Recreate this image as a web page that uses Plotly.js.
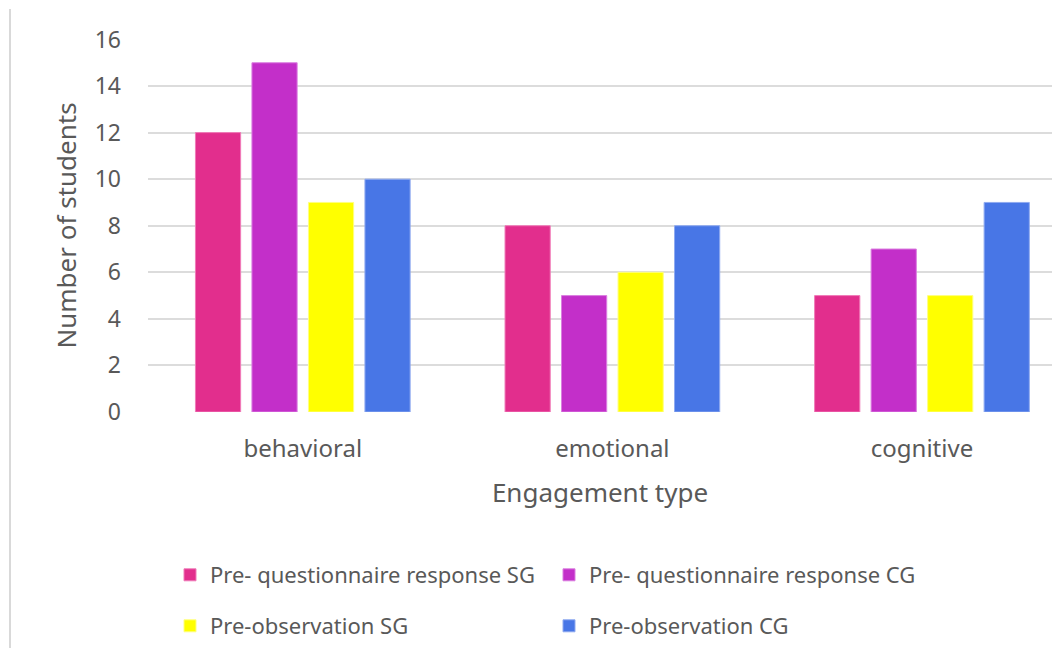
<!DOCTYPE html>
<html>
<head>
<meta charset="utf-8">
<script src="https://cdn.plot.ly/plotly-3.0.1.min.js"></script>
<style>html,body{margin:0;padding:0;overflow:hidden;background:#fff;}#chart{width:1052px;height:648px;}</style>
</head>
<body>
<div id="chart"></div>
<script>
const categories = ["behavioral", "emotional", "cognitive"];
const seriesNames = ["Pre- questionnaire response SG", "Pre- questionnaire response CG", "Pre-observation SG", "Pre-observation CG"];
const questionnaireSG = [12, 8, 5];
const questionnaireCG = [15, 5, 7];
const observationSG = [9, 6, 5];
const observationCG = [10, 8, 9];
const yTicks = [0, 2, 4, 6, 8, 10, 12, 14, 16];

const colors = ["#E22E8D", "#C32FC9", "#FFFF00", "#4876E6"];
const lineColors = ["#F07BB8", "#DB7FE0", "#FFFF80", "#8FAAF0"];
const values = [questionnaireSG, questionnaireCG, observationSG, observationCG];
const legends = ["legend", "legend", "legend2", "legend2"];

const traces = values.map((v, i) => ({
  type: "bar",
  name: seriesNames[i],
  x: categories,
  y: v,
  marker: {color: colors[i], line: {color: lineColors[i], width: 1}},
  legend: legends[i],
  hoverinfo: "skip"
}));

const font = {family: "'Noto Sans', 'Open Sans', sans-serif", color: "#595959"};
const W = 904, H = 373, L = 148, T = 39;

const layout = {
  width: 1052, height: 648,
  margin: {l: L, r: 0, t: T, b: 648 - T - H},
  paper_bgcolor: "#fff", plot_bgcolor: "#fff",
  font: font,
  showlegend: true,
  barmode: "group",
  bargap: 0.27,
  bargroupgap: 0.2,
  xaxis: {
    type: "category",
    range: [-0.5, 2.42],
    showgrid: false, zeroline: false, showline: false,
    ticks: "", ticklabelstandoff: 20,
    tickfont: {size: 24, family: font.family, color: "#595959"},
    title: {text: "Engagement type", font: {size: 26, family: font.family, color: "#595959"}, standoff: 20}
  },
  yaxis: {
    range: [0, 16.02],
    tickvals: yTicks,
    showgrid: true, gridcolor: "#dcdcdc", gridwidth: 2,
    zeroline: false, showline: false,
    ticks: "", ticklabelstandoff: 26,
    tickfont: {size: 23, family: font.family, color: "#595959"},
    title: {text: "Number of students", font: {size: 26, family: font.family, color: "#595959"}, standoff: 10}
  },
  legend: {
    orientation: "h", x: (170 - L) / W, xanchor: "left", y: (T + H - 575) / H, yanchor: "middle",
    entrywidth: 334, entrywidthmode: "pixels",
    font: {size: 22, family: font.family, color: "#595959"},
    bgcolor: "rgba(0,0,0,0)"
  },
  legend2: {
    orientation: "h", x: (170 - L) / W, xanchor: "left", y: (T + H - 626) / H, yanchor: "middle",
    entrywidth: 334, entrywidthmode: "pixels",
    font: {size: 22, family: font.family, color: "#595959"},
    bgcolor: "rgba(0,0,0,0)"
  },
  shapes: [{
    type: "line", xref: "paper", yref: "paper",
    x0: (10 - L) / W, x1: (10 - L) / W, y0: (T + H - 9) / H, y1: (T + H - 648) / H,
    line: {color: "#d9d9d9", width: 2}
  }]
};

Plotly.newPlot("chart", traces, layout, {displayModeBar: false, staticPlot: true});
</script>
</body>
</html>
